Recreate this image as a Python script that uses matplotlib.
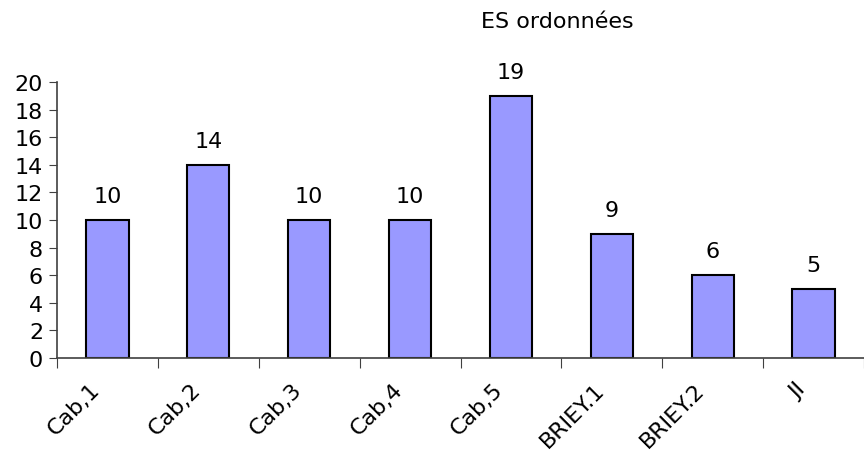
import matplotlib.pyplot as plt
import matplotlib.transforms as mtransforms
import numpy as np

categories = ["Cab,1", "Cab,2", "Cab,3", "Cab,4", "Cab,5", "BRIEY.1", "BRIEY.2", "JI"]
values = [10, 14, 10, 10, 19, 9, 6, 5]
title = "ES ordonnées"

plt.rcParams["font.family"] = ["DejaVu Sans"]
FS = 16

fig = plt.figure(figsize=(8.64, 4.56), dpi=100)
ax = fig.add_axes([57 / 864, 1 - 359 / 456, (864 - 57) / 864, (359 - 83) / 456])

x = np.arange(len(categories))
ax.bar(x, values, width=0.42, color="#9999FF", edgecolor="black", linewidth=1.5)

for xi, v in zip(x, values):
    ax.annotate(str(v), (xi, v), xytext=(0, 10), textcoords="offset points",
                ha="center", va="bottom", fontsize=FS)

ax.set_xlim(-0.5, len(categories) - 0.5)
ax.set_ylim(0, 20)
ax.set_yticks(range(0, 21, 2))
ax.tick_params(axis="y", labelsize=FS, length=6, direction="out", color="#404040", pad=4)

# ticks between categories, labels at the centres
ax.set_xticks(np.arange(len(categories) + 1) - 0.5)
ax.set_xticklabels([])
ax.set_xticks(x, minor=True)
ax.set_xticklabels(categories, minor=True, rotation=45, ha="right",
                   rotation_mode="anchor", fontsize=FS)
ax.tick_params(axis="x", which="major", length=7, direction="out", color="#404040")
ax.tick_params(axis="x", which="minor", length=0, pad=15)
shift = mtransforms.ScaledTranslation(-18 / 100, 0, fig.dpi_scale_trans)
for lbl in ax.get_xticklabels(minor=True):
    lbl.set_transform(lbl.get_transform() + shift)

for s in ["top", "right"]:
    ax.spines[s].set_visible(False)
for s in ["left", "bottom"]:
    ax.spines[s].set_color("#404040")
    ax.spines[s].set_linewidth(1.2)

fig.text(557 / 864, 1 - 22 / 456, title, ha="center", va="center", fontsize=FS)

fig.savefig("out.png", dpi=100)
